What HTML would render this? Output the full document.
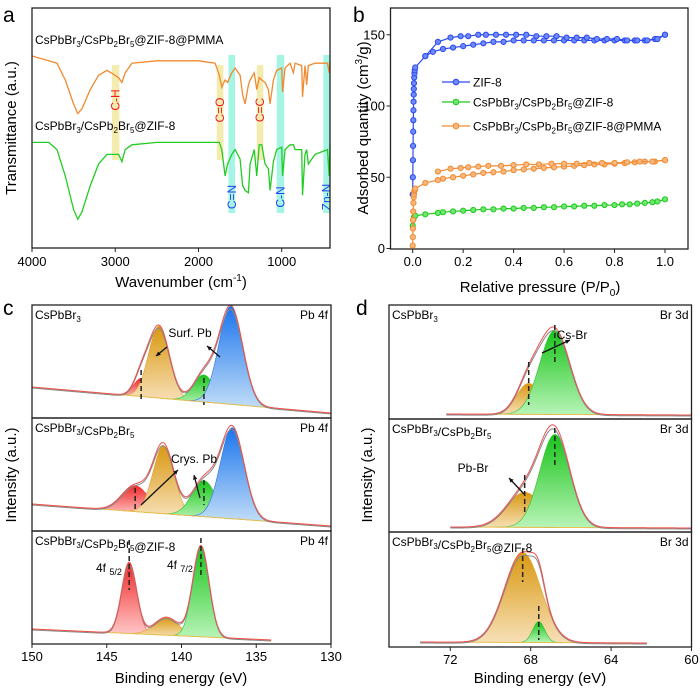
<!DOCTYPE html>
<html><head><meta charset="utf-8"><style>
body{margin:0;background:#fff}
svg{display:block;font-family:"Liberation Sans",Arial,sans-serif}
</style></head><body>
<svg id="fig" width="700" height="691" viewBox="0 0 700 691" xmlns="http://www.w3.org/2000/svg">
<defs>
<linearGradient id="gRed" x1="0" y1="0" x2="0" y2="1"><stop offset="0" stop-color="#f02828"/><stop offset="1" stop-color="#ffc8c8"/></linearGradient>
<linearGradient id="gOra" x1="0" y1="0" x2="0" y2="1"><stop offset="0" stop-color="#d9980f"/><stop offset="1" stop-color="#f7e0b8"/></linearGradient>
<linearGradient id="gGrn" x1="0" y1="0" x2="0" y2="1"><stop offset="0" stop-color="#18c418"/><stop offset="1" stop-color="#b8f4b8"/></linearGradient>
<linearGradient id="gBlu" x1="0" y1="0" x2="0" y2="1"><stop offset="0" stop-color="#1a74ee"/><stop offset="1" stop-color="#c2def8"/></linearGradient>
</defs>
<g id="pa"></g>
<g id="pb"></g>
<g id="pc"></g>
<g id="pd"></g>
<g fill="#000">
<text x="3" y="22" font-size="21">a</text>
<text x="353" y="22" font-size="21">b</text>
<text x="3" y="315" font-size="21">c</text>
<text x="356" y="315" font-size="21">d</text>
<text x="35" y="44" font-size="12">CsPbBr<tspan font-size="8" dy="3">3</tspan><tspan dy="-3">/CsPb</tspan><tspan font-size="8" dy="3">2</tspan><tspan dy="-3">Br</tspan><tspan font-size="8" dy="3">5</tspan><tspan dy="-3">@ZIF-8@PMMA</tspan></text>
<text x="35" y="130" font-size="12">CsPbBr<tspan font-size="8" dy="3">3</tspan><tspan dy="-3">/CsPb</tspan><tspan font-size="8" dy="3">2</tspan><tspan dy="-3">Br</tspan><tspan font-size="8" dy="3">5</tspan><tspan dy="-3">@ZIF-8</tspan></text>
<text transform="translate(16,128) rotate(-90)" text-anchor="middle" font-size="15">Transmittance (a.u.)</text>
<text x="181" y="287" text-anchor="middle" font-size="15">Wavenumber (cm<tspan font-size="10" dy="-6">-1</tspan><tspan dy="6">)</tspan></text>
<text transform="translate(368,128) rotate(-90)" text-anchor="middle" font-size="15">Adsorbed quantity (cm<tspan font-size="10" dy="-6">3</tspan><tspan dy="6">/g)</tspan></text>
<text x="540" y="292" text-anchor="middle" font-size="15">Relative pressure (P/P<tspan font-size="10" dy="4">0</tspan><tspan dy="-4">)</tspan></text>
<text transform="translate(16,475) rotate(-90)" text-anchor="middle" font-size="15">Intensity (a.u.)</text>
<text x="181" y="683" text-anchor="middle" font-size="15">Binding energy (eV)</text>
<text transform="translate(372,475) rotate(-90)" text-anchor="middle" font-size="15">Intensity (a.u.)</text>
<text x="540" y="683" text-anchor="middle" font-size="15">Binding energy (eV)</text>
</g>
</svg>
<script>
// ---------- Panel a data ----------
const ftirWn = [4000,3800,3700,3600,3500,3450,3400,3300,3200,3100,3050,2960,2920,2880,2800,2500,2000,1800,1750,1720,1680,1650,1600,1560,1500,1470,1440,1400,1380,1330,1300,1270,1240,1200,1160,1140,1100,1060,1000,990,960,900,860,840,760,750,720,700,680,600,450,430,420];
const ftirPmma = [80,78,77,70,60,56,58,66,72,74,73,71,69,73,77,78,78,77,72,67,70,69,73,75,72,64,60,68,70,73,66,71,70,69,66,60,70,74,75,65,75,77,73,77,76,63,76,68,76,77,77,73,78];
const ftirZif = [44,44,41,30,16,12,15,26,35,39,39,39,36,41,43,44,44,44,44,41,30,35,39,41,37,26,24,23,35,41,30,43,43,35,33,24,36,41,42,30,41,43,43,41,41,22,39,41,35,39,41,30,43];
const bandWn = [[3040,2950],[1780,1700],[1300,1220],[1640,1560],[1060,970],[500,420]];
const bandNames = ['C-H','C=O','C=C','C=N','C-N','Zn-N'];
const aTicks = [4000,3000,2000,1000];

// ---------- Panel b data ----------
const zifAdsP = [0,0.0005,0.001,0.0015,0.002,0.0025,0.003,0.0035,0.004,0.0045,0.005,0.006,0.007,0.008,0.01,0.05,0.08,0.12,0.16,0.2,0.24,0.28,0.32,0.36,0.4,0.44,0.48,0.52,0.56,0.6,0.64,0.68,0.72,0.76,0.8,0.84,0.88,0.92,0.96,1.0];
const zifAdsQ = [38,50,62,72,82,90,97,103,108,112,116,120,123,125,127,135,138,140,141,142,143,144,145,145,146,146,146,146,146,146,146,146,146,146,146,146,146,146,147,150];
const zifDesP = [1.0,0.97,0.93,0.89,0.85,0.81,0.77,0.73,0.69,0.65,0.61,0.57,0.53,0.49,0.45,0.41,0.37,0.33,0.29,0.26,0.22,0.19,0.15,0.1,0.05];
const zifDesQ = [150,147,146,146,146,147,147,147,148,148,148,149,149,149,150,150,150,150,150,150,149,149,148,145,135];
const pmAdsP = [0,0.0005,0.001,0.0015,0.002,0.003,0.004,0.005,0.006,0.008,0.01,0.05,0.1,0.12,0.16,0.2,0.24,0.28,0.32,0.36,0.4,0.44,0.48,0.52,0.56,0.6,0.64,0.68,0.72,0.76,0.8,0.84,0.88,0.92,0.96,1.0];
const pmAdsQ = [2,8,14,20,26,32,36,38,40,41,42,46,48,49,50,51,52,53,53.5,54,55,55.5,56,56.5,57,57.5,58,58.5,59,59,59.5,60,60.5,61,61,62];
const pmDesP = [1.0,0.95,0.9,0.85,0.8,0.75,0.7,0.65,0.6,0.55,0.5,0.45,0.4,0.35,0.3,0.26,0.22,0.19,0.15,0.1];
const pmDesQ = [62,61,61,60.5,60,60,60,59.5,59.5,59.5,59,59,58.5,58,58,57.5,57,56.5,56,54];
const grAdsP = [0,0.002,0.005,0.01,0.05,0.1,0.12,0.16,0.2,0.24,0.28,0.32,0.36,0.4,0.44,0.48,0.52,0.56,0.6,0.64,0.68,0.72,0.76,0.8,0.83,0.86,0.89,0.92,0.95,0.97,1.0];
const grAdsQ = [16,20,22,23,24,25,25.5,26,26.5,27,27.5,27.5,28,28,28.5,28.5,29,29,29.5,29.5,30,30,30.5,30.5,31,31,31.5,32,32.5,33,34.5];
const bTicksX = [0,0.2,0.4,0.6,0.8,1.0];
const bTicksY = [0,50,100,150];
const seriesNames = ['ZIF-8','CsPbBr3/CsPb2Br5@ZIF-8','CsPbBr3/CsPb2Br5@ZIF-8@PMMA'];

// ---------- Panel c data (Pb 4f) ----------
// each peak: [center eV, sigma eV, height counts]
const c1Peaks = [[142.7,0.5,18],[141.5,0.7,72],[138.5,0.7,27],[136.7,0.8,98]];
const c2Peaks = [[143.1,0.9,26],[141.2,0.7,68],[138.5,0.8,36],[136.6,0.8,91]];
const c3Peaks = [[143.5,0.5,71],[141.0,0.8,18],[138.7,0.55,91]];
const cBg = [[150,130,28,2],[150,130,24,2],[150,134,12,1]];
const cRanges = [[150,130],[150,130],[150,134]];
const cNames = ['CsPbBr3','CsPbBr3/CsPb2Br5','CsPbBr3/CsPb2Br5@ZIF-8'];
const cTicks = [150,145,140,135,130];
// ---------- Panel d data (Br 3d) ----------
const d1Peaks = [[68.1,0.6,31],[66.8,0.75,84]];
const d2Peaks = [[68.3,0.9,35],[66.8,0.75,93]];
const d3Peaks = [[68.4,0.9,90],[67.6,0.3,21]];
const dBg = [[72.2,60,2,1],[72,60,2,1],[73.5,62.2,2,1]];
const dRanges = [[72.2,60],[72,60],[73.5,62.2]];
const dTicks = [72,68,64,60];

const NS='http://www.w3.org/2000/svg';
function E(tag,parent){const e=document.createElementNS(NS,tag);parent.appendChild(e);return e;}

// ===== Panel a =====
(function(){
const g=document.getElementById('pa');
const X=w=>32+(4000-w)*298/3580, Y=v=>248-v*2.4;
for(let i=0;i<bandWn.length;i++){
 const r=E('rect',g);
 
 
 const blue=i>=3;
 r.setAttribute('x',X(bandWn[i][0]));r.setAttribute('width',X(bandWn[i][1])-X(bandWn[i][0]));
 r.setAttribute('y',blue?55:65);r.setAttribute('height',blue?158:95);
 r.setAttribute('fill',blue?'#7ff0d8':'#f0e48c');r.setAttribute('opacity','0.7');
 const t=E('text',g);
 
 
 const cx=(X(bandWn[i][0])+X(bandWn[i][1]))/2+4, cy=blue?197:(i==0?100:110);
 t.setAttribute('transform','translate('+cx+','+cy+') rotate(-90)');
 t.setAttribute('text-anchor','middle');t.setAttribute('font-size','12');
 t.setAttribute('fill',blue?'#2040f0':'#f01818');t.textContent=bandNames[i];
}
const mkLine=(vals,col,name)=>{const p=E('polyline',g);
 
 
 p.setAttribute('points',ftirWn.map((w,i)=>X(w)+','+Y(vals[i])).join(' '));
 p.setAttribute('fill','none');p.setAttribute('stroke',col);p.setAttribute('stroke-width','1.3');};
mkLine(ftirPmma,'#f08a30','ftir-pmma-line');
mkLine(ftirZif,'#22cc22','ftir-zif-line');
const f=E('rect',g);


f.setAttribute('x',32);f.setAttribute('y',8);f.setAttribute('width',298);f.setAttribute('height',240);f.setAttribute('fill','none');f.setAttribute('stroke','#222');f.setAttribute('stroke-width','1.3');
for(const t of aTicks){const l=E('line',g);
 
 
 l.setAttribute('x1',X(t));l.setAttribute('x2',X(t));l.setAttribute('y1',248);l.setAttribute('y2',252);l.setAttribute('stroke','#222');
 const tx=E('text',g);
 
 
 tx.setAttribute('x',X(t));tx.setAttribute('y',266);tx.setAttribute('text-anchor','middle');tx.setAttribute('font-size','13');tx.textContent=t;}
})();

// ===== Panel b =====
(function(){
const g=document.getElementById('pb');
const X=p=>412.7+p*252.3, Y=q=>248.5-q*1.425;
const f=E('rect',g);


f.setAttribute('x',390.5);f.setAttribute('y',8);f.setAttribute('width',297.5);f.setAttribute('height',241);f.setAttribute('fill','none');f.setAttribute('stroke','#222');f.setAttribute('stroke-width','1.3');
for(const t of bTicksX){const l=E('line',g);
 
 
 l.setAttribute('x1',X(t));l.setAttribute('x2',X(t));l.setAttribute('y1',249);l.setAttribute('y2',253);l.setAttribute('stroke','#222');
 const tx=E('text',g);
 
 
 tx.setAttribute('x',X(t));tx.setAttribute('y',266);tx.setAttribute('text-anchor','middle');tx.setAttribute('font-size','13');tx.textContent=t.toFixed(1);}
for(const t of bTicksY){const l=E('line',g);
 
 
 l.setAttribute('x1',386.5);l.setAttribute('x2',390.5);l.setAttribute('y1',Y(t));l.setAttribute('y2',Y(t));l.setAttribute('stroke','#222');
 const tx=E('text',g);
 
 
 tx.setAttribute('x',385);tx.setAttribute('y',Y(t)+4.5);tx.setAttribute('text-anchor','end');tx.setAttribute('font-size','13');tx.textContent=t;}
const series=(P,Q,col,light,name)=>{
 const p=E('polyline',g);
 
 
 p.setAttribute('points',P.map((v,i)=>X(v)+','+Y(Q[i])).join(' '));p.setAttribute('fill','none');p.setAttribute('stroke',col);p.setAttribute('stroke-width','1.2');
 for(let i=0;i<P.length;i++){const c=E('circle',g);
  
  
  c.setAttribute('cx',X(P[i]));c.setAttribute('cy',Y(Q[i]));c.setAttribute('r',2.6);c.setAttribute('fill',light);c.setAttribute('stroke',col);c.setAttribute('stroke-width','1');}
};
series(zifAdsP,zifAdsQ,'#2a4af0','#6f8af8','zif8-adsorption');
series(zifDesP,zifDesQ,'#2a4af0','#6f8af8','zif8-desorption');
series(grAdsP,grAdsQ,'#1ec81e','#6fe86f','composite-adsorption');
series(pmAdsP,pmAdsQ,'#f08a30','#f8b880','pmma-adsorption');
series(pmDesP,pmDesQ,'#f08a30','#f8b880','pmma-desorption');
const cols=[['#2a4af0','#6f8af8'],['#1ec81e','#6fe86f'],['#f08a30','#f8b880']];
const ly=[82,102,126];
for(let i=0;i<3;i++){
 const l=E('line',g);
 
 
 l.setAttribute('x1',442);l.setAttribute('x2',470);l.setAttribute('y1',ly[i]);l.setAttribute('y2',ly[i]);l.setAttribute('stroke',cols[i][0]);l.setAttribute('stroke-width','1.2');
 const c=E('circle',g);
 
 
 c.setAttribute('cx',456);c.setAttribute('cy',ly[i]);c.setAttribute('r',2.8);c.setAttribute('fill',cols[i][1]);c.setAttribute('stroke',cols[i][0]);
 const t=E('text',g);
 
 
 t.setAttribute('x',473);t.setAttribute('y',ly[i]+4.5);t.setAttribute('font-size','12');
 const s=seriesNames[i];
 if(i===0){t.textContent=s;}else{
  t.innerHTML='CsPbBr<tspan font-size="8" dy="3">3</tspan><tspan dy="-3">/CsPb</tspan><tspan font-size="8" dy="3">2</tspan><tspan dy="-3">Br</tspan><tspan font-size="8" dy="3">5</tspan><tspan dy="-3">'+s.slice(s.indexOf('@'))+'</tspan>';}
}
})();

// ===== XPS panels =====
const fills=['url(#gRed)','url(#gOra)','url(#gGrn)','url(#gBlu)'];
const edges=['#f04040','#e0a030','#30c030','#3070e0'];
function gauss(e,p){return p[2]*Math.exp(-0.5*Math.pow((e-p[0])/p[1],2));}
function xps(g,X,bottoms,tops,peakSets,bgs,ranges,names,colorIdx,label,prefix){
 for(let s=0;s<3;s++){
  const bot=bottoms[s]-3, peaks=peakSets[s], bg=bgs[s], rg=ranges[s];
  const B=e=>bg[2]+(bg[3]-bg[2])*(rg[0]-e)/(rg[0]-rg[1]);
  const es=[];for(let e=rg[0];e>=rg[1]-1e-9;e-=0.04)es.push(e);
  peaks.forEach((p,k)=>{
   const lo=p[0]+4*p[1], hi=p[0]-4*p[1];
   const pts=es.filter(e=>e<=lo&&e>=hi);
   let d='M'+X(pts[0])+','+(bot-B(pts[0]));
   pts.forEach(e=>{d+=' L'+X(e)+','+(bot-B(e)-gauss(e,p));});
   for(let j=pts.length-1;j>=0;j--)d+=' L'+X(pts[j])+','+(bot-B(pts[j]));
   const a=E('path',g);
   
   
   const ci=colorIdx[s][k];
   a.setAttribute('d',d+'Z');a.setAttribute('fill',fills[ci]);a.setAttribute('stroke',edges[ci]);a.setAttribute('stroke-width','0.6');
  });
  const bl=E('polyline',g);
  
  
  bl.setAttribute('points',es.map(e=>X(e)+','+(bot-B(e))).join(' '));bl.setAttribute('fill','none');bl.setAttribute('stroke','#e8c050');bl.setAttribute('stroke-width','1');
  const env=es.map(e=>X(e)+','+(bot-B(e)-peaks.reduce((a,p)=>a+gauss(e,p),0)));
  const raw=E('polyline',g);
  
  
  raw.setAttribute('points',es.map(e=>X(e)+','+(bot-B(e)-peaks.reduce((a,p)=>a+gauss(e,p),0)*0.97+1)).join(' '));raw.setAttribute('fill','none');raw.setAttribute('stroke','#888');raw.setAttribute('stroke-width','1');
  const en=E('polyline',g);
  
  
  en.setAttribute('points',env.join(' '));en.setAttribute('fill','none');en.setAttribute('stroke','#f05050');en.setAttribute('stroke-width','1');
  const fr=E('rect',g);
  
  
  fr.setAttribute('x',X(label.x0));fr.setAttribute('y',tops[s]);fr.setAttribute('width',X(label.x1)-X(label.x0));fr.setAttribute('height',bottoms[s]-tops[s]);fr.setAttribute('fill','none');fr.setAttribute('stroke','#222');fr.setAttribute('stroke-width','1.3');
  const nm=E('text',g);
  
  
  nm.setAttribute('x',X(label.x0)+3);nm.setAttribute('y',tops[s]+14);nm.setAttribute('font-size','12');
  nm.innerHTML=names[s].replace(/Br3/,'Br<tspan font-size="8" dy="3">3</tspan><tspan dy="-3"></tspan>').replace(/Pb2Br5/,'Pb<tspan font-size="8" dy="3">2</tspan><tspan dy="-3">Br</tspan><tspan font-size="8" dy="3">5</tspan><tspan dy="-3"></tspan>');
  const lb=E('text',g);
  
  
  lb.setAttribute('x',X(label.x1)-3);lb.setAttribute('y',tops[s]+14);lb.setAttribute('font-size','12');lb.setAttribute('text-anchor','end');lb.textContent=label.t;
 }
 for(const t of label.ticks){
  const l=E('line',g);
  
  
  l.setAttribute('x1',X(t));l.setAttribute('x2',X(t));l.setAttribute('y1',bottoms[2]);l.setAttribute('y2',bottoms[2]+4);l.setAttribute('stroke','#222');
  const tx=E('text',g);
  
  
  tx.setAttribute('x',X(t));tx.setAttribute('y',bottoms[2]+17);tx.setAttribute('text-anchor','middle');tx.setAttribute('font-size','13');tx.textContent=t;
 }
}
const Xc=e=>32+(150-e)*14.95;
const Xd=e=>389+(75.05-e)*20.1;
xps(document.getElementById('pc'),Xc,[418,531,644],[305,418,531],[c1Peaks,c2Peaks,c3Peaks],cBg,cRanges,cNames,[[0,1,2,3],[0,1,2,3],[0,1,2]],{x0:150,x1:130,t:'Pb 4f',ticks:cTicks},'xps-c');
xps(document.getElementById('pd'),Xd,[419,532,647],[305,419,532],[d1Peaks,d2Peaks,d3Peaks],dBg,dRanges,cNames,[[1,2],[1,2],[1,2]],{x0:75.05,x1:60,t:'Br 3d',ticks:dTicks},'xps-d');

// annotations
(function(){
const svg=document.getElementById('fig');
const g=E('g',svg);


const dash=[[Xc(142.7),370,400],[Xc(138.5),378,405],[Xc(143.1),488,512],[Xc(138.5),480,505],[Xc(143.5),540,590],[Xc(138.7),538,575],[Xd(66.8),325,362],[Xd(68.1),362,405],[Xd(66.8),428,467],[Xd(68.3),475,515],[Xd(68.4),548,582],[Xd(67.6),606,640]];
for(const d of dash){const l=E('line',g);
 
 
 l.setAttribute('x1',d[0]);l.setAttribute('x2',d[0]);l.setAttribute('y1',d[1]);l.setAttribute('y2',d[2]);l.setAttribute('stroke','#222');l.setAttribute('stroke-width','1.5');l.setAttribute('stroke-dasharray','5,3');}
const arrows=[[167,347,156,356],[220,357,207,346],[141,505,178,470],[200,498,194,475],[542,353,570,340],[524,494,509,478]];
for(const a of arrows){const l=E('line',g);
 
 
 l.setAttribute('x1',a[0]);l.setAttribute('y1',a[1]);l.setAttribute('x2',a[2]);l.setAttribute('y2',a[3]);l.setAttribute('stroke','#111');l.setAttribute('stroke-width','1.3');
 const ang=Math.atan2(a[3]-a[1],a[2]-a[0]);const h=E('path',g);
 
 
 const p=(r,o)=>(a[2]-r*Math.cos(ang+o))+','+(a[3]-r*Math.sin(ang+o));
 h.setAttribute('d','M'+a[2]+','+a[3]+' L'+p(5,0.45)+' L'+p(5,-0.45)+'Z');h.setAttribute('fill','#111');}
const texts=[['Surf. Pb',190,337,'label-surf-pb'],['Crys. Pb',194,463,'label-crys-pb'],['Cs-Br',572,339,'label-cs-br'],['Pb-Br',473,472,'label-pb-br']];
for(const t of texts){const e=E('text',g);
 
 
 e.setAttribute('x',t[1]);e.setAttribute('y',t[2]);e.setAttribute('text-anchor','middle');e.setAttribute('font-size','12');e.textContent=t[0];}
const f5=E('text',g);


f5.setAttribute('x',96);f5.setAttribute('y',572);f5.setAttribute('font-size','12');f5.innerHTML='4f <tspan font-size="9" dy="3">5/2</tspan>';
const f7=E('text',g);


f7.setAttribute('x',167);f7.setAttribute('y',569);f7.setAttribute('font-size','12');f7.innerHTML='4f <tspan font-size="9" dy="3">7/2</tspan>';
})();
</script>
</body></html>
